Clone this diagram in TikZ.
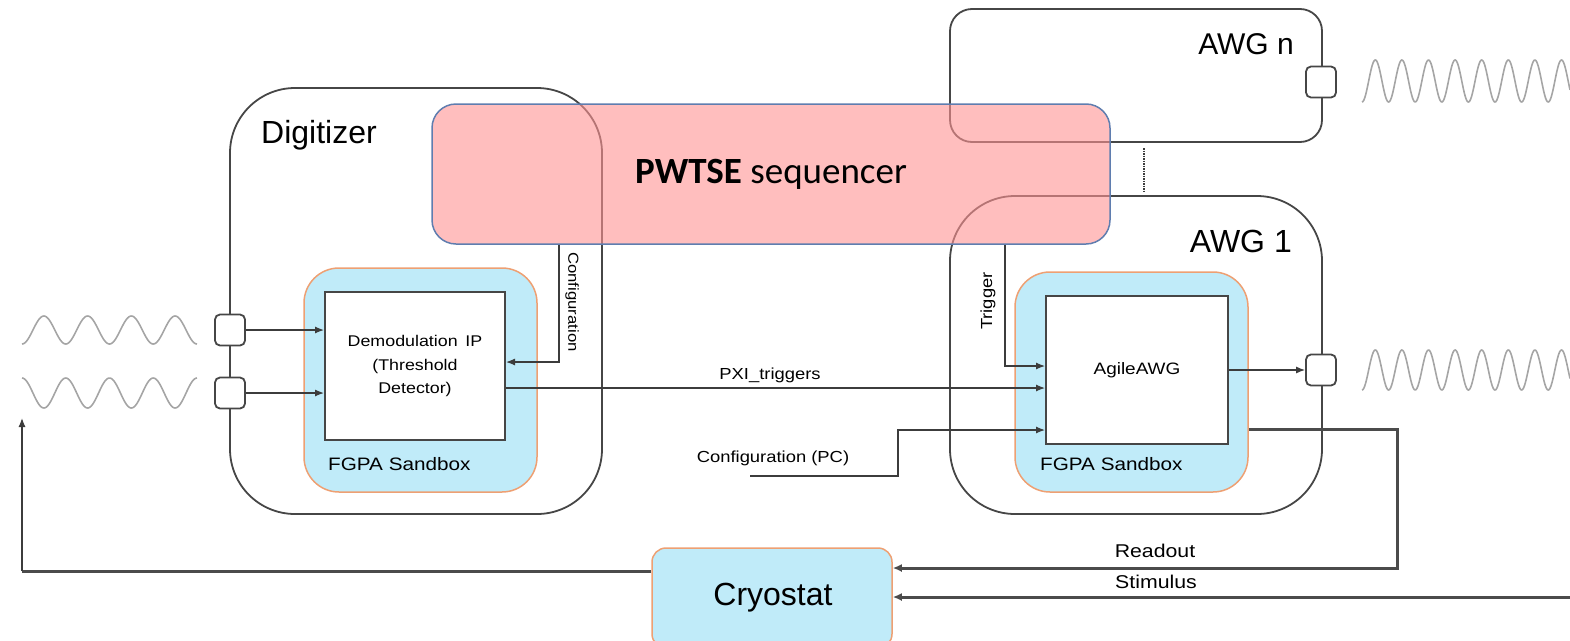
\documentclass[tikz,border=0pt]{standalone}
\usepackage{fontspec}
\setmainfont{Liberation Sans}
\newfontfamily\widesans{Liberation Sans}[FakeStretch=1.15]
\newfontfamily\calibri{Carlito}
\usetikzlibrary{arrows.meta}

\definecolor{boxline}{RGB}{70,70,70}
\definecolor{seqfill}{RGB}{255,147,147}
\definecolor{seqline}{RGB}{95,125,175}
\definecolor{sbfill}{RGB}{192,235,249}
\definecolor{sbline}{RGB}{238,160,115}
\definecolor{wavecol}{RGB}{165,165,165}
\definecolor{wire}{RGB}{60,60,60}
\definecolor{thickwire}{RGB}{75,75,75}

\tikzset{
  unit/.style={draw=boxline, line width=1.8pt, rectangle, inner sep=0pt},
  sandbox/.style={draw=sbline, fill=sbfill, line width=1.5pt, rounded corners=35pt, inner sep=0pt},
  ipbox/.style={draw=boxline, fill=white, line width=2pt, inner sep=0pt, align=center},
  port/.style={draw=boxline, fill=white, line width=1.8pt, rounded corners=5pt,
    minimum width=30pt, minimum height=31pt, inner sep=0pt},
  sig/.style={draw=wavecol, line width=1.6pt},
  link/.style={draw=wire, line width=1.2pt, -{Latex[length=9pt,width=7pt]}},
  heavy/.style={draw=thickwire, line width=3pt},
  heavyarr/.style={heavy, -{Latex[length=9pt,width=8pt]}},
  small/.style={font=\widesans\fontsize{16}{19}\selectfont, inner sep=0pt},
  title/.style={font=\fontsize{32}{36}\selectfont, inner sep=0pt},
}

\begin{document}
\begin{tikzpicture}[x=1pt, y=-1pt]
\useasboundingbox (0,0) rectangle (1570,640);

% ---- instrument frames ----
\node[unit, rounded corners=65pt, minimum width=372pt, minimum height=426pt] (dig) at (416,301) {};
\node[unit, rounded corners=22pt, minimum width=372pt, minimum height=133pt] (awgn) at (1136,75.5) {};
\node[unit, rounded corners=65pt, minimum width=372pt, minimum height=318pt] (awg1) at (1136,355) {};

% ---- sequencer (translucent, frames show through) ----
\node[draw=seqline, fill=seqfill, fill opacity=0.6, text opacity=1, line width=1.5pt,
      rounded corners=24pt, minimum width=678pt, minimum height=140pt, inner sep=0pt,
      font=\calibri\fontsize{37}{40}\selectfont] (seq) at (771,174)
      {\textbf{PWTSE} sequencer};

% ---- titles ----
\node[title, anchor=west] (digt) at (261,135) {Digitizer};
\node[title, anchor=east, font=\fontsize{30}{34}\selectfont] (awgnt) at (1294,44) {AWG n};
\node[title, anchor=east] (awg1t) at (1292,241) {AWG 1};

% ---- dotted link between AWG units ----
\coordinate (dotA) at (1144,148);
\coordinate (dotB) at (1144,192);
\draw[wire, line width=1.4pt, dash pattern=on 1.5pt off 1pt] (dotA) -- (dotB);

% ---- FPGA sandboxes ----
\node[sandbox, minimum width=233pt, minimum height=224pt] (dsb) at (420.5,380) {};
\node[sandbox, minimum width=233pt, minimum height=220pt] (asb) at (1131.5,382) {};
\node[small, anchor=west, font=\widesans\fontsize{18}{21}\selectfont] (dsbt) at (328,464) {FGPA Sandbox};
\node[small, anchor=west, font=\widesans\fontsize{18}{21}\selectfont] (asbt) at (1040,464) {FGPA Sandbox};

\node[ipbox, minimum width=180pt, minimum height=148pt, font=\widesans\fontsize{15.5}{23.5}\selectfont] (demod) at (415,366)
  {Demodulation\enspace IP\\(Threshold\\Detector)};
\node[ipbox, minimum width=182pt, minimum height=148pt, font=\widesans\fontsize{16.5}{20}\selectfont] (agile) at (1137,370)
  {AgileAWG};

% ---- ports ----
\node[port] (dp1) at (230,330) {};
\node[port] (dp2) at (230,393) {};
\node[port] (np) at (1321,82) {};
\node[port] (ap) at (1321,370) {};

% ---- analog signals ----
\draw[sig] plot[domain=22:197, samples=160, smooth] (\x, {330 + 14*cos((\x-22)/43.75*360)});
\draw[sig] plot[domain=22:197, samples=160, smooth] (\x, {393 - 15*cos((\x-22)/43.75*360)});
\draw[sig] plot[domain=1362:1570, samples=300, smooth] (\x, {81 + 21*cos((\x-1362)/26.6*360)});
\draw[sig] plot[domain=1362:1570, samples=300, smooth] (\x, {370 + 20*cos((\x-1362)/26.6*360)});

% ---- digitizer inputs ----
\draw[link] (dp1.east) -- (demod.west |- dp1.east);
\draw[link] (dp2.east) -- (demod.west |- dp2.east);

% ---- configuration from sequencer ----
\coordinate (cfgtop) at (seq.south -| 559,0);
\coordinate (cfgbend) at (559,362);
\draw[link] (cfgtop) -- (cfgbend) -- (demod.east |- cfgbend);
\node[small, rotate=-90, font=\widesans\fontsize{14.5}{17}\selectfont] (cfgt) at (572,302) {Configuration};

% ---- trigger from sequencer ----
\coordinate (trgtop) at (seq.south -| 1005,0);
\coordinate (trgbend) at (1005,366);
\draw[link] (trgtop) -- (trgbend) -- (agile.west |- trgbend);
\node[small, rotate=90] (trgt) at (988,301) {Trigger};

% ---- PXI triggers ----
\coordinate (pxi) at (demod.east |- 0,388);
\draw[link] (pxi) -- (agile.west |- pxi);
\node[small] (pxit) at (770,375) {PXI\_triggers};

% ---- configuration from PC ----
\coordinate (pcA) at (750,476);
\coordinate (pcB) at (898,476);
\coordinate (pcC) at (898,430);
\draw[link] (pcA) -- (pcB) -- (pcC) -- (agile.west |- pcC);
\node[small] (pct) at (773,458) {Configuration (PC)};

% ---- AWG output ----
\draw[link] (agile.east |- ap.west) -- (ap.west);

% ---- cryostat and its connections ----
\node[draw=sbline, fill=sbfill, line width=1.5pt, rounded corners=14pt, inner sep=0pt,
      minimum width=240pt, minimum height=100pt] (cryo) at (772,598) {};
\node[title] (cryot) at (773,598) {Cryostat};

\coordinate (roA) at (asb.east |- 0,429);
\coordinate (roB) at (1397,429);
\coordinate (roC) at (1397,568);
\draw[heavyarr] (roA) -- (roB) -- (roC) -- (cryo.east |- roC);
\node[small, font=\widesans\fontsize{18.5}{21}\selectfont] (rot) at (1155,551) {Readout};

\coordinate (stA) at (1570,597);
\draw[heavyarr] (stA) -- (cryo.east |- stA);
\node[small, font=\widesans\fontsize{18.5}{21}\selectfont] (stt) at (1156,582) {Stimulus};

\coordinate (fbA) at (22,571);
\coordinate (fbB) at (22,418);
\draw[heavy] (cryo.west |- fbA) -- (fbA);
\draw[link] (fbA) -- (fbB);
\end{tikzpicture}
\end{document}
